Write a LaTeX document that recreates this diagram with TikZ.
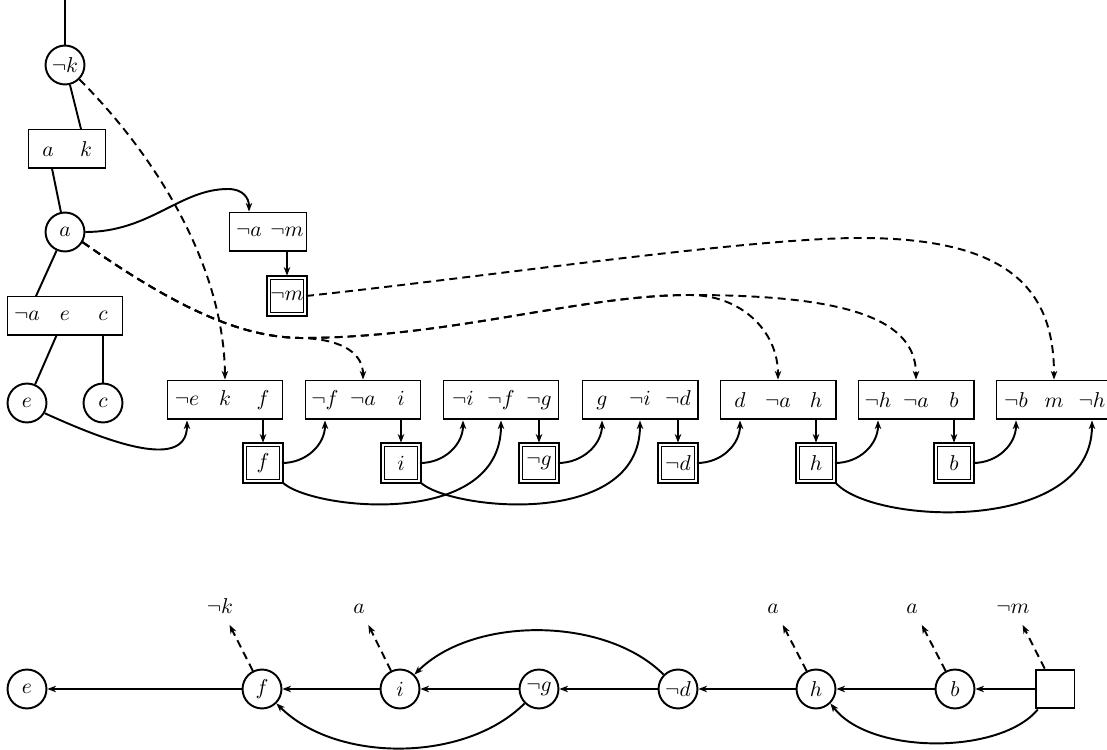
\documentclass[tikz,border=0pt]{standalone}
\usetikzlibrary{arrows.meta,calc,backgrounds}
\tikzset{
  lw/.style={line width=0.9pt},
  circ/.style={circle, draw, lw, fill=white, minimum size=18.1pt, inner sep=0pt},
  cbox/.style={rectangle, draw, lw, fill=white, minimum width=53.5pt, minimum height=18.1pt, inner sep=0pt},
  sbox/.style={cbox, minimum width=35.8pt},
  dbox/.style={rectangle, draw, double, double distance=0.8pt, line width=0.65pt, fill=white, minimum size=17pt, inner sep=0pt},
  lab/.style={text height=7pt, text depth=0pt, inner sep=1.9pt},
  arr/.style={lw, -{Stealth[length=4pt,width=3pt,inset=1.2pt]}},
  dasharr/.style={arr, dash pattern=on 3.7pt off 2.4pt},
  sqbox/.style={rectangle, draw, lw, minimum size=18.1pt, inner sep=0pt}
}
\newcommand{\cell}[1]{\makebox[17.67pt]{#1}}
\begin{document}
\begin{tikzpicture}[x=0.465pt,y=-0.465pt,line width=0.9pt]
\path[use as bounding box] (0,0) rectangle (1107,750);
% tree
\coordinate (top) at (65,0);
\node[circ] (nk) at (65,65) {$\neg k$};
\node[sbox] (ak) at (67,149) {\cell{$a$}\cell{$k$}};
\node[circ] (a) at (65,232) {$a$};
\node[cbox] (aec) at (65,316) {\cell{$\neg a$}\cell{$e$}\cell{$c$}};
\node[circ] (e) at (27,403) {$e$};
\node[circ] (c) at (103,403) {$c$};
\node[sbox] (am) at (268,232) {\cell{$\neg a$}\cell{$\neg m$}};
\node[dbox] (dm) at (287,296) {$\neg m$};
% row of clauses
\node[cbox] (b1) at (225,400) {\cell{$\neg e$}\cell{$k$}\cell{$f$}};
\node[cbox] (b2) at (363,400) {\cell{$\neg f$}\cell{$\neg a$}\cell{$i$}};
\node[cbox] (b3) at (501,400) {\cell{$\neg i$}\cell{$\neg f$}\cell{$\neg g$}};
\node[cbox] (b4) at (640,400) {\cell{$g$}\cell{$\neg i$}\cell{$\neg d$}};
\node[cbox] (b5) at (778,400) {\cell{$d$}\cell{$\neg a$}\cell{$h$}};
\node[cbox] (b6) at (916,400) {\cell{$\neg h$}\cell{$\neg a$}\cell{$b$}};
\node[cbox] (b7) at (1054,400) {\cell{$\neg b$}\cell{$m$}\cell{$\neg h$}};
\foreach \b in {b1,b2,b3,b4,b5,b6,b7,aec}{
  \coordinate (\b a) at ($(\b.center)+(-38,0)$);
  \coordinate (\b b) at (\b.center);
  \coordinate (\b c) at ($(\b.center)+(38,0)$);
}
\coordinate (akA) at ($(ak.center)+(-19,0)$);
\coordinate (akK) at ($(ak.center)+(19,0)$);
\coordinate (amA) at ($(am.center)+(-19,0)$);
\coordinate (amB) at ($(am.center)+(19,0)$);
\node[dbox] (df) at (263,463) {$f$};
\node[dbox] (di) at (401,463) {$i$};
\node[dbox] (dg) at (539,463) {$\neg g$};
\node[dbox] (dd) at (678,463) {$\neg d$};
\node[dbox] (dh) at (816,463) {$h$};
\node[dbox] (db) at (954,463) {$b$};
% tree lines
\begin{scope}[on background layer, lw]
\draw[lw] (top) -- (nk);
\draw[lw] (nk) -- (akK);
\draw[lw] (akA) -- (a);
\draw[lw] (a) -- (aeca);
\draw[lw] (aecb) -- (e);
\draw[lw] (aecc) -- (c);
\end{scope}
% solid arrows top part
\draw[arr] (a.east) .. controls (150,232) and (180,189) .. (228,189) .. controls (243,189) and (249,198) .. (amA |- am.north);
\draw[arr,shorten >=0.6pt] (amB |- am.south) -- (dm);
\draw[arr] (e.-30) .. controls (95,436) and (187,475) .. (b1a |- b1.south);
\foreach \b/\d in {b1/df,b2/di,b3/dg,b4/dd,b5/dh,b6/db}{
  \draw[arr,shorten >=0.6pt] (\b c |- \b.south) -- (\d);
}
\draw[arr] (df.east) .. controls (307,463) and (325,444) .. (b2a |- b2.south);
\draw[arr] (di.east) .. controls (445,463) and (463,444) .. (b3a |- b3.south);
\draw[arr] (dg.east) .. controls (583,463) and (602,444) .. (b4a |- b4.south);
\draw[arr] (dd.east) .. controls (722,463) and (740,444) .. (b5a |- b5.south);
\draw[arr] (dh.east) .. controls (860,463) and (878,444) .. (b6a |- b6.south);
\draw[arr] (db.east) .. controls (998,463) and (1016,444) .. (b7a |- b7.south);
\draw[arr] (df.south east) .. controls (310,510) and (501,530) .. (b3b |- b3.south);
\draw[arr] (di.south east) .. controls (448,510) and (640,530) .. (b4b |- b4.south);
\draw[arr] (dh.south east) .. controls (870,525) and (1092,535) .. (b7c |- b7.south);
% dashed arrows
\draw[dasharr] (nk.-45) .. controls (160,160) and (224,270) .. (b1b |- b1.north);
\draw[dasharr] (a.-30) .. controls (190,318) and (250,337) .. (300,338) .. controls (345,339) and (363,355) .. (b2b |- b2.north);
\draw[dasharr] (a.-30) .. controls (190,318) and (250,337) .. (300,338) .. controls (450,338) and (580,295) .. (690,295) .. controls (740,295) and (778,330) .. (b5b |- b5.north);
\draw[dasharr] (a.-30) .. controls (190,318) and (250,337) .. (300,338) .. controls (450,338) and (580,295) .. (690,295) .. controls (850,295) and (916,320) .. (b6b |- b6.north);
\draw[dasharr] (dm.east) .. controls (500,275) and (750,238) .. (860,238) .. controls (1010,238) and (1054,290) .. (b7b |- b7.north);
% bottom implication graph
\node[circ] (E) at (27,689) {$e$};
\node[circ] (F) at (262,689) {$f$};
\node[circ] (I) at (400,689) {$i$};
\node[circ] (G) at (539,689) {$\neg g$};
\node[circ] (D) at (678,689) {$\neg d$};
\node[circ] (H) at (816,689) {$h$};
\node[circ] (B) at (955,689) {$b$};
\node[sqbox] (sq) at (1055,689) {};
\node[lab] (LK) at (220,606) {$\neg k$};
\node[lab] (LA1) at (359,606) {$a$};
\node[lab] (LA2) at (773,606) {$a$};
\node[lab] (LA3) at (912,606) {$a$};
\node[lab] (LM) at (1013,606) {$\neg m$};
\draw[arr] (sq) -- (B);
\draw[arr] (B) -- (H);
\draw[arr] (H) -- (D);
\draw[arr] (D) -- (G);
\draw[arr] (G) -- (I);
\draw[arr] (I) -- (F);
\draw[arr] (F) -- (E);
\draw[dasharr,shorten >=3.3pt] (F) -- (LK);
\draw[dasharr,shorten >=3.3pt] (I) -- (LA1);
\draw[dasharr,shorten >=3.3pt] (H) -- (LA2);
\draw[dasharr,shorten >=3.3pt] (B) -- (LA3);
\draw[dasharr,shorten >=3.3pt] (sq) -- (LM);
\draw[arr] (G.-135) .. controls (465,763) and (336,763) .. (F.-45);
\draw[arr] (D.135) .. controls (605,616) and (473,616) .. (I.45);
\draw[arr] (sq.-130) .. controls (1000,755) and (870,755) .. (H.-45);
\end{tikzpicture}
\end{document}
